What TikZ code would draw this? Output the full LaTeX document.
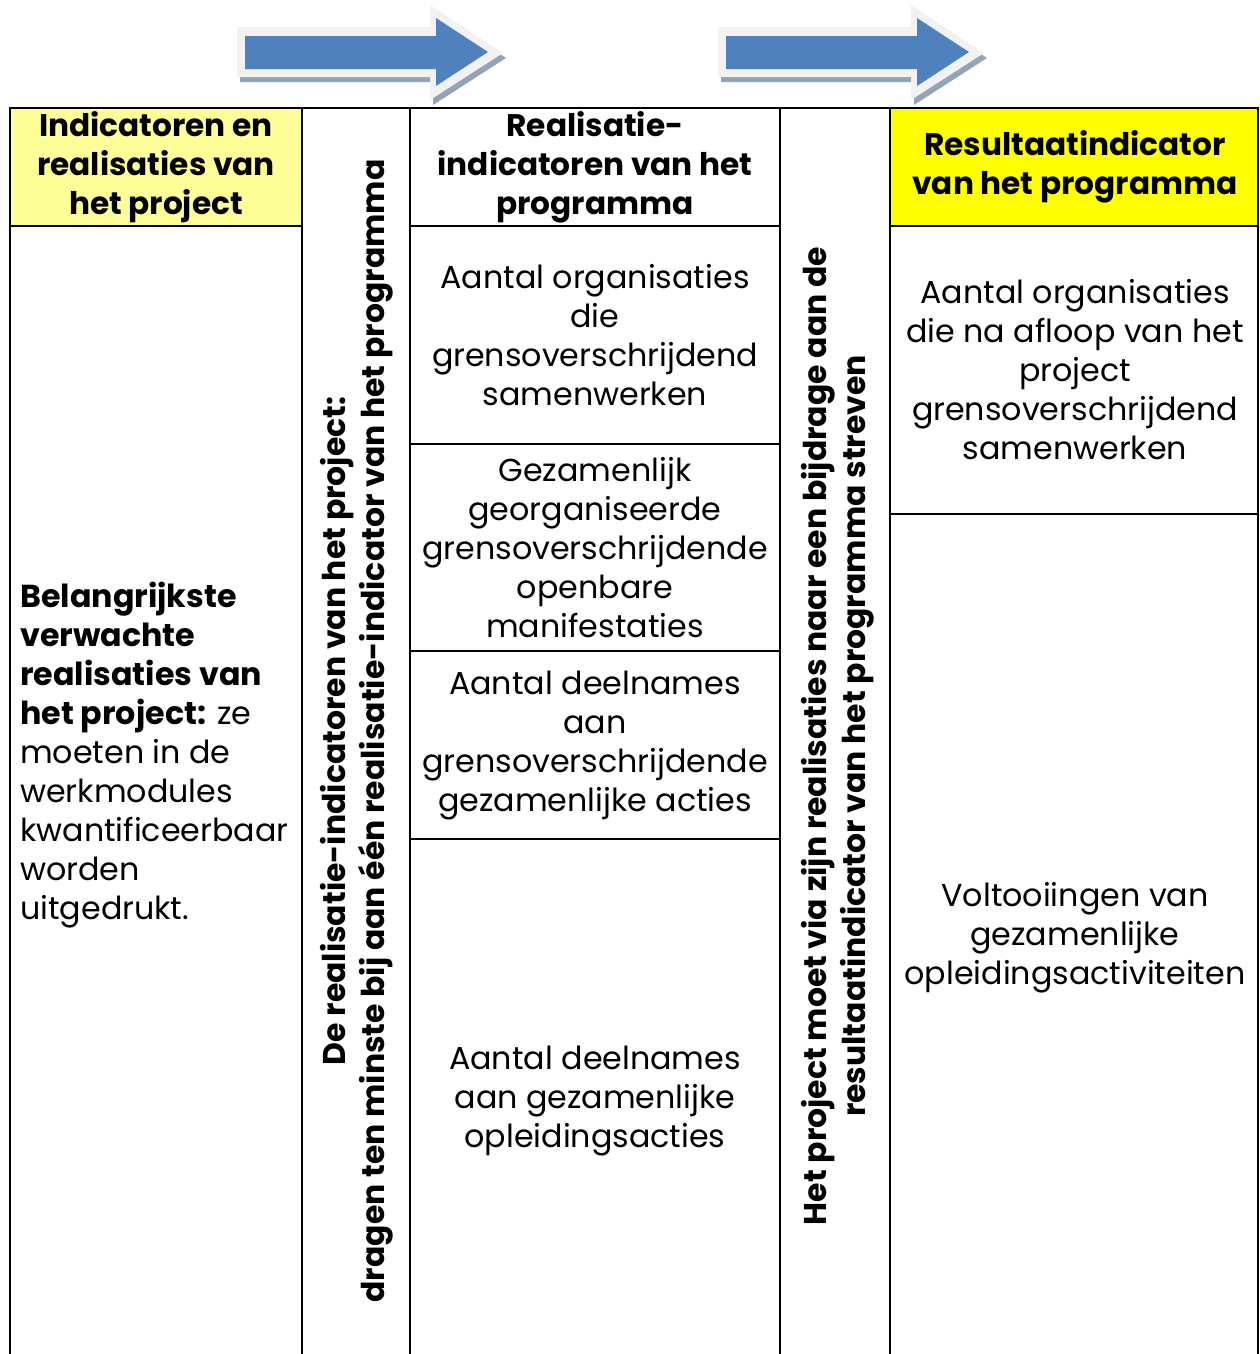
\documentclass[tikz,border=0pt]{standalone}
\usepackage{fontspec}
\setmainfont{Poppins}
\definecolor{lightyel}{HTML}{FFFF99}
\definecolor{brightyel}{HTML}{FFFF00}
\definecolor{arrowblue}{HTML}{4F81BD}
\definecolor{arrowrim}{HTML}{F2F2F2}
\definecolor{arrowshade}{HTML}{95A3B6}
\tikzset{
  grid/.style={line width=1.6pt, black},
  txt/.style={align=center, inner sep=0pt, font=\fontsize{23.8}{29.25}\selectfont},
  btxt/.style={txt, font=\fontsize{23.4}{29.25}\selectfont\bfseries},
  vtxt/.style={align=center, inner sep=0pt, rotate=90, font=\fontsize{23.6}{29.25}\selectfont\bfseries},
}
\newcommand{\bluearrow}[1]{%
  \begin{scope}[xshift=#1*0.75pt]
    \fill[arrowshade] (240,32) -- (433,32) -- (433,10) -- (506,58) -- (433,105) -- (433,82) -- (240,82) -- cycle;
    \fill[arrowrim] (237,27) -- (430,27) -- (430,5) -- (503,53) -- (430,100) -- (430,77) -- (237,77) -- cycle;
    \fill[arrowblue] (245,36) -- (436,36) -- (436,18) -- (488,52) -- (436,86) -- (436,69) -- (245,69) -- cycle;
  \end{scope}}
\begin{document}
\begin{tikzpicture}[x=0.75pt,y=-0.75pt]
\useasboundingbox (0,0) rectangle (1260,1354);
% header fills
\fill[lightyel] (10,108) rectangle (302,226);
\fill[brightyel] (890,108) rectangle (1258,226);
% arrows
\bluearrow{0}
\bluearrow{481}
% grid
\draw[grid] (10,1354) -- (10,108) -- (1258,108) -- (1258,1354);
\foreach \xx in {302,410,780,890} \draw[grid] (\xx,108) -- (\xx,1354);
\draw[grid] (10,226) -- (302,226);
\draw[grid] (410,226) -- (780,226);
\draw[grid] (890,226) -- (1258,226);
\draw[grid] (410,444) -- (780,444);
\draw[grid] (410,651) -- (780,651);
\draw[grid] (410,839) -- (780,839);
\draw[grid] (890,514) -- (1258,514);
% column 1
\node[btxt] (h1) at (156,167) {Indicatoren en\\realisaties van\\het project};
\node[txt, align=left, anchor=west] (c1) at (20,755) {\textbf{Belangrijkste}\\\textbf{verwachte}\\\textbf{realisaties van}\\\textbf{het project:} ze\\moeten in de\\werkmodules\\kwantificeerbaar\\worden\\uitgedrukt.};
% column 2
\node[vtxt] (v2) at (357,731) {De realisatie-indicatoren van het project:\\dragen ten minste bij aan één realisatie-indicator van het programma};
% column 3
\node[btxt] (h3) at (595,167) {Realisatie-\\indicatoren van het\\programma};
\node[txt] (r1) at (595,335) {Aantal organisaties\\die\\grensoverschrijdend\\samenwerken};
\node[txt] (r2) at (595,548) {Gezamenlijk\\georganiseerde\\grensoverschrijdende\\openbare\\manifestaties};
\node[txt] (r3) at (595,746) {Aantal deelnames\\aan\\grensoverschrijdende\\gezamenlijke acties};
\node[txt] (r4) at (595,1101) {Aantal deelnames\\aan gezamenlijke\\opleidingsacties};
% column 4
\node[vtxt] (v4) at (838,736) {Het project moet via zijn realisaties naar een bijdrage aan de\\resultaatindicator van het programma streven};
% column 5
\node[btxt] (h5) at (1075,167) {Resultaatindicator\\van het programma};
\node[txt] (s1) at (1075,370) {Aantal organisaties\\die na afloop van het\\project\\grensoverschrijdend\\samenwerken};
\node[txt] (s2) at (1075,938) {Voltooiingen van\\gezamenlijke\\opleidingsactiviteiten};
\end{tikzpicture}
\end{document}
